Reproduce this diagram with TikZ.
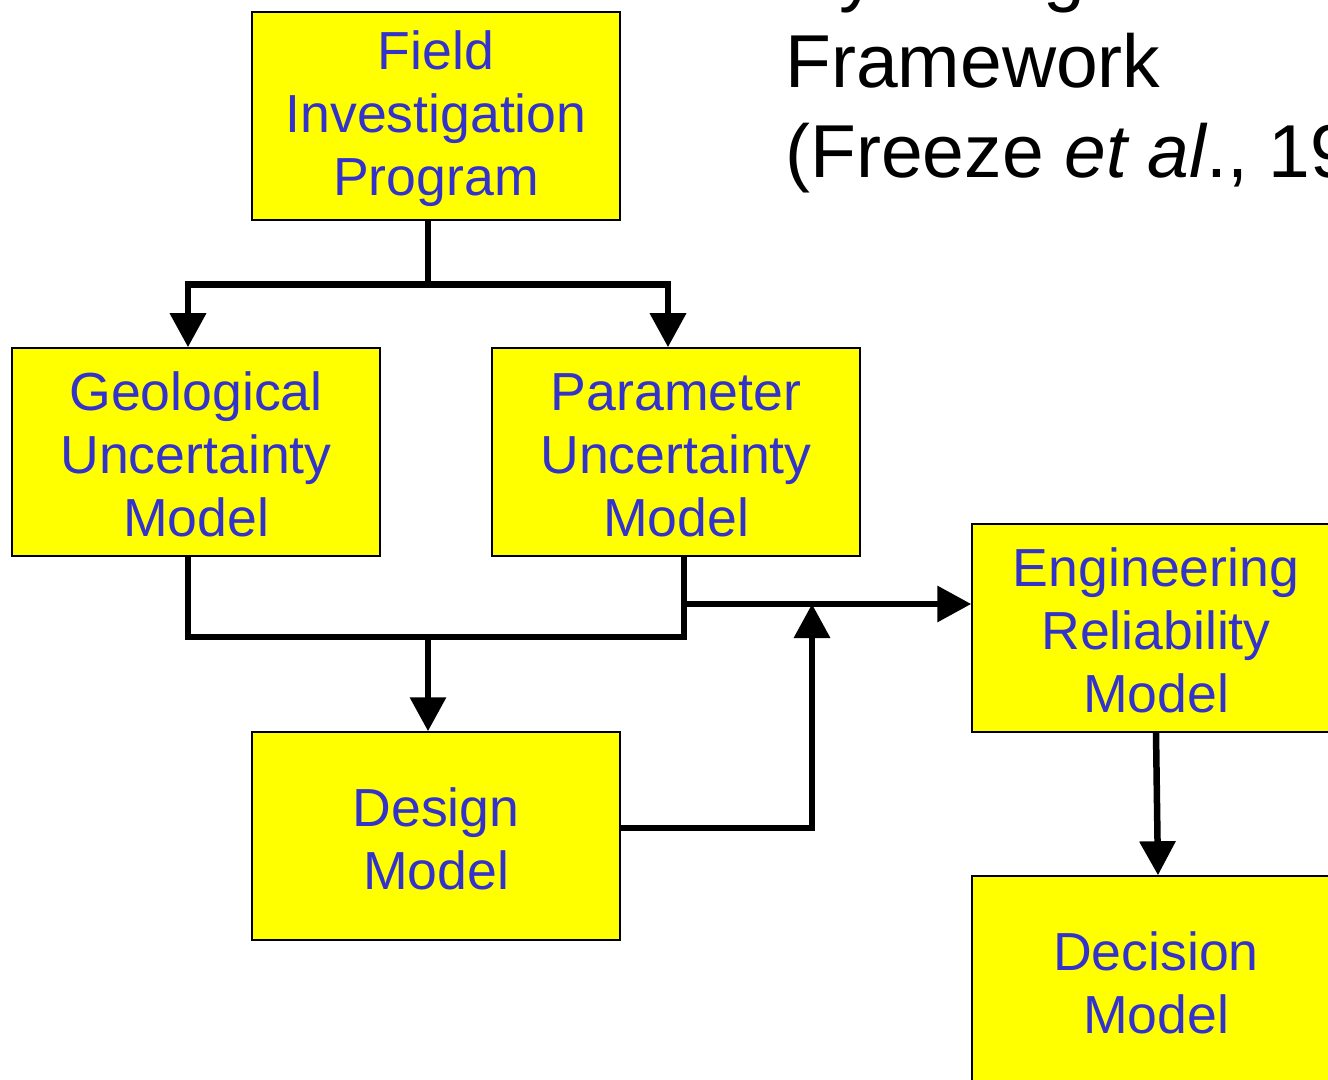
\documentclass[tikz,border=0pt]{standalone}
\usepackage{fontspec}
\setmainfont{Liberation Sans}
\usetikzlibrary{arrows.meta}
\definecolor{boxyellow}{RGB}{255,255,0}
\definecolor{textblue}{RGB}{51,51,204}
\begin{document}
\begin{tikzpicture}[x=0.5pt,y=-0.5pt,
    box/.style={draw=black,line width=0.75pt,fill=boxyellow,text=textblue,
        minimum width=184pt,minimum height=104pt,inner sep=0pt,align=center,
        font=\fontsize{26.8}{31.5}\selectfont},
    heading/.style={anchor=base west,inner sep=0pt,font=\fontsize{37.5}{45}\selectfont},
    link/.style={line width=3.25pt},
    arrow/.style={link,-{Triangle[length=17pt,width=17.5pt]}}]
    \useasboundingbox (0,0) rectangle (1328,1080);
    \clip (0,0) rectangle (1328,1080);
    % title, cut by the page edge
    \node[heading] (head1) at (785,-2) {Hydrologic Decision};
    \node[heading] (head2) at (785,88) {Framework};
    \node[heading] (head3) at (785,178) {(Freeze \textit{et al}., 1990)};
    % boxes
    \node[box] (field) at (436,116) {\strut Field\\Investigation\\Program};
    \node[box] (geo) at (196,452) {\strut Geological\\Uncertainty\\Model};
    \node[box] (param) at (676,452) {\strut Parameter\\Uncertainty\\Model};
    \node[box] (design) at (436,836) {\strut Design\\Model};
    \node[box] (eng) at (1156,628) {\strut Engineering\\Reliability\\Model};
    \node[box] (decision) at (1156,980) {\strut Decision\\Model};
    % field program splits in two
    \draw[link] ([xshift=-4pt]field.south) -- ++(0,64) coordinate (fork);
    \draw[arrow] (fork) -| ([xshift=-4pt]geo.north);
    \draw[arrow] (fork) -| ([xshift=-4pt]param.north);
    % both uncertainty models join
    \coordinate (pout) at ([xshift=4pt]param.south);
    \draw[link] ([xshift=-4pt]geo.south) -- ++(0,80) -| (pout);
    \coordinate (merge) at ([xshift=-4pt]design.north |- 0,636);
    \draw[arrow] (merge) -- ([xshift=-4pt]design.north);
    % into the reliability model
    \coordinate (ein) at ([yshift=12pt]eng.west);
    \coordinate (meet) at (812,604);
    \draw[arrow] (pout |- ein) -- (ein);
    \draw[arrow] ([yshift=4pt]design.east) -| (meet);
    \draw[arrow] (eng.south) -- ([xshift=1pt]decision.north);
\end{tikzpicture}
\end{document}
